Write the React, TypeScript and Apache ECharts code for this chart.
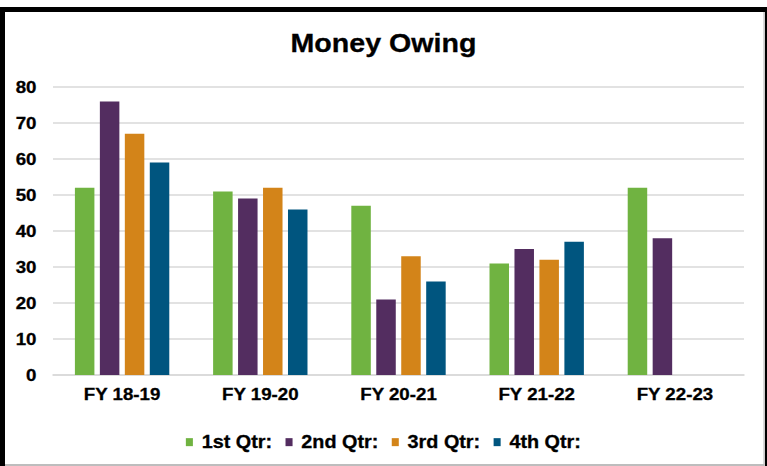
import React, { useEffect, useRef } from "react";
import * as echarts from "echarts";

const categories = ["FY 18-19", "FY 19-20", "FY 20-21", "FY 21-22", "FY 22-23"];
const seriesNames = ["1st Qtr:", "2nd Qtr:", "3rd Qtr:", "4th Qtr:"];
const q1 = [52, 51, 47, 31, 52];
const q2 = [76, 49, 21, 35, 38];
const q3 = [67, 52, 33, 32, null];
const q4 = [59, 46, 26, 37, null];
const colors = ["#70B341", "#532D60", "#D38419", "#00557F"];

const PAGE_W = 767;
const PAGE_H = 466;
const CHART_W = 697;
const SX = PAGE_W / CHART_W;

export default function App() {
  const ref = useRef<HTMLDivElement>(null);
  useEffect(() => {
    if (!ref.current) return;
    const chart = echarts.init(ref.current, undefined, { renderer: "svg" });
    const font = "'Liberation Sans', Arial, sans-serif";
    const data = [q1, q2, q3, q4];
    const heavy = { textBorderColor: "#000", textBorderWidth: 0.3 };
    chart.setOption({
      animation: false,
      backgroundColor: "#ffffff",
      title: {
        text: "Money Owing",
        left: "center",
        top: 25,
        textStyle: { fontFamily: font, fontSize: 26, fontWeight: "bold", color: "#000", ...heavy },
      },
      legend: {
        data: seriesNames,
        top: 428,
        left: "center",
        icon: "rect",
        itemWidth: 6.4,
        itemHeight: 8,
        itemGap: 12,
        textStyle: { fontFamily: font, fontSize: 18, fontWeight: "bold", color: "#000", padding: [0, 0, 0, 3], ...heavy },
      },
      grid: { left: 53 / SX, right: CHART_W - 744 / SX, top: 87, bottom: PAGE_H - 375, containLabel: false },
      xAxis: {
        type: "category",
        data: categories,
        axisLine: { show: true, lineStyle: { color: "#d9d9d9", width: 1.5 } },
        axisTick: { show: false },
        axisLabel: { margin: 11, fontFamily: font, fontSize: 17, fontWeight: "bold", color: "#000", ...heavy },
      },
      yAxis: {
        type: "value",
        min: 0,
        max: 80,
        interval: 10,
        axisLine: { show: false },
        axisTick: { show: false },
        splitLine: { lineStyle: { color: "#d9d9d9", width: 1.5 } },
        axisLabel: { margin: 15, fontFamily: font, fontSize: 17, fontWeight: "bold", color: "#000", ...heavy },
      },
      series: seriesNames.map((name, i) => ({
        name,
        type: "bar",
        data: data[i],
        barWidth: 19.5 / SX,
        barGap: "28%",
        itemStyle: { color: colors[i] },
      })),
      graphic: [
        { type: "rect", shape: { x: 0, y: 7, width: CHART_W, height: 5 }, style: { fill: "#000" } },
        { type: "rect", shape: { x: 0, y: 7, width: 5 / SX, height: PAGE_H }, style: { fill: "#000" } },
        { type: "rect", shape: { x: 765 / SX, y: 7, width: 3 / SX, height: PAGE_H }, style: { fill: "#000" } },
        { type: "rect", shape: { x: 763.5 / SX, y: 12, width: 1.2 / SX, height: PAGE_H }, style: { fill: "#b8b8b8" } },
        { type: "rect", shape: { x: 5 / SX, y: 464, width: 759 / SX, height: 2 }, style: { fill: "#bdbdbd" } },
      ],
    });
    return () => chart.dispose();
  }, []);
  return (
    <div style={{ position: "fixed", left: 0, top: 0, width: PAGE_W, height: PAGE_H, overflow: "hidden", background: "#fff" }}>
      <div
        ref={ref}
        style={{ width: CHART_W, height: PAGE_H, transform: `scaleX(${SX})`, transformOrigin: "0 0" }}
      />
    </div>
  );
}
